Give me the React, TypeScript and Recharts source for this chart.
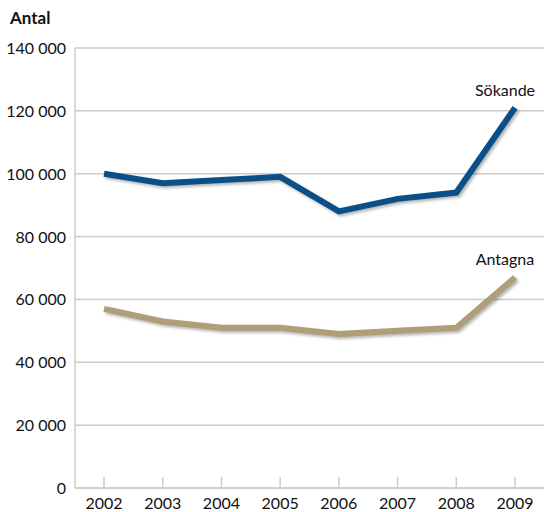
import { LineChart, Line, XAxis, YAxis, CartesianGrid, LabelList } from 'recharts';

const years = ['2002', '2003', '2004', '2005', '2006', '2007', '2008', '2009'];
const sokande = [100000, 97000, 98000, 99000, 88000, 92000, 94000, 121000];
const antagna = [57000, 53000, 51000, 51000, 49000, 50000, 51000, 67000];
const yTicks = [0, 20000, 40000, 60000, 80000, 100000, 120000, 140000];

const data = years.map((year, i) => ({ year, sokande: sokande[i], antagna: antagna[i] }));

const font = 'Lato, "Open Sans", sans-serif';
const fmt = (v: number) => String(v).replace(/\B(?=(\d{3})+(?!\d))/g, ' ');

function XTick({ x, y, payload }: any) {
  return (
    <g>
      <line x1={x} x2={x} y1={y - 11} y2={y} stroke="#cccccc" strokeWidth={1.5} />
      <text x={x} y={y + 21} textAnchor="middle" fill="#111" fontSize={16} fontFamily={font}>
        {payload.value}
      </text>
    </g>
  );
}

function YTick({ x, y, payload }: any) {
  return (
    <text x={x} y={y + 6} textAnchor="end" fill="#111" fontSize={16} fontFamily={font}>
      {fmt(payload.value)}
    </text>
  );
}

function endLabel(name: string) {
  return (props: any) => {
    const { x, y, index } = props;
    if (index !== years.length - 1) return null;
    return (
      <text x={x - 10} y={y - 12} textAnchor="middle" fill="#111" fontSize={16} fontFamily={font}>
        {name}
      </text>
    );
  };
}

export default function App() {
  return (
    <div style={{ position: 'relative', width: 544, height: 512 }}>
      <style>{'body{margin:0;overflow:hidden}'}</style>
      <div style={{ position: 'absolute', left: 10, top: 7, fontFamily: font, fontWeight: 'bold', fontSize: 17, color: '#111' }}>
        Antal
      </div>
      <LineChart width={544} height={512} data={data} margin={{ top: 48, right: 0, bottom: 0, left: 0 }}>
        <CartesianGrid vertical={false} stroke="#cccccc" strokeWidth={1.5} />
        <XAxis
          dataKey="year"
          height={24}
          tickLine={false}
          tickSize={0}
          tickMargin={0}
          padding={{ left: 29, right: 29 }}
          axisLine={{ stroke: '#cccccc', strokeWidth: 1.5 }}
          tick={<XTick />}
          interval={0}
        />
        <YAxis
          width={75}
          domain={[0, 140000]}
          ticks={yTicks}
          tickLine={false}
          axisLine={{ stroke: '#cccccc', strokeWidth: 1.5 }}
          tick={<YTick />}
          tickSize={0}
          tickMargin={9}
        />
        <Line
          dataKey="sokande"
          stroke="#0a4f88"
          strokeWidth={6}
          dot={false}
          isAnimationActive={false}
          style={{ filter: 'drop-shadow(2px 2px 1.5px rgba(0,0,0,0.3))' }}
        >
          <LabelList content={endLabel('Sökande')} />
        </Line>
        <Line
          dataKey="antagna"
          stroke="#ae9f77"
          strokeWidth={6}
          dot={false}
          isAnimationActive={false}
          style={{ filter: 'drop-shadow(2px 2px 1.5px rgba(0,0,0,0.3))' }}
        >
          <LabelList content={endLabel('Antagna')} />
        </Line>
      </LineChart>
    </div>
  );
}
